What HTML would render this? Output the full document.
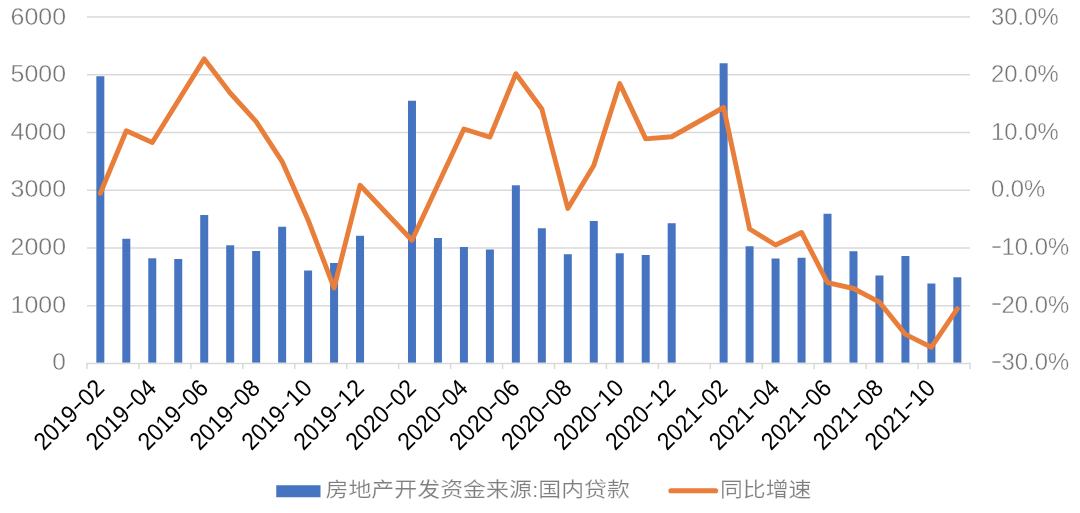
<!DOCTYPE html>
<html lang="zh"><head><meta charset="utf-8"><title>房地产开发资金来源:国内贷款</title>
<style>html,body{margin:0;padding:0;background:#fff}body{width:1080px;height:513px;overflow:hidden}svg{display:block}text{font-family:"Liberation Sans","Noto Sans CJK SC",sans-serif}.ax{fill:#777;font-size:24.5px;stroke:#fff;stroke-width:.36px}.xl{fill:#000;font-size:24.3px}.lg{fill:#7f7f7f;font-size:20.6px;stroke:#fff;stroke-width:.2px}</style></head><body>
<svg width="1080" height="513" viewBox="0 0 1080 513">
<rect width="1080" height="513" fill="#fff"/>
<g stroke="#d9d9d9" stroke-width="1.5" fill="none">
<line x1="87.0" y1="305.75" x2="970.0" y2="305.75"/>
<line x1="87.0" y1="248.00" x2="970.0" y2="248.00"/>
<line x1="87.0" y1="190.25" x2="970.0" y2="190.25"/>
<line x1="87.0" y1="132.50" x2="970.0" y2="132.50"/>
<line x1="87.0" y1="74.75" x2="970.0" y2="74.75"/>
<line x1="87.0" y1="17.00" x2="970.0" y2="17.00"/>
</g>
<g fill="#4674c1">
<rect x="96.34" y="76.25" width="8" height="286.50"/>
<rect x="122.31" y="238.76" width="8" height="123.99"/>
<rect x="148.28" y="258.28" width="8" height="104.47"/>
<rect x="174.25" y="259.03" width="8" height="103.72"/>
<rect x="200.22" y="215.02" width="8" height="147.73"/>
<rect x="226.19" y="245.29" width="8" height="117.46"/>
<rect x="252.16" y="251.00" width="8" height="111.75"/>
<rect x="278.13" y="226.75" width="8" height="136.00"/>
<rect x="304.10" y="270.52" width="8" height="92.23"/>
<rect x="330.07" y="263.01" width="8" height="99.74"/>
<rect x="356.04" y="235.76" width="8" height="126.99"/>
<rect x="407.98" y="100.74" width="8" height="262.01"/>
<rect x="433.95" y="238.01" width="8" height="124.74"/>
<rect x="459.92" y="247.02" width="8" height="115.73"/>
<rect x="485.89" y="249.50" width="8" height="113.25"/>
<rect x="511.86" y="185.28" width="8" height="177.47"/>
<rect x="537.84" y="228.25" width="8" height="134.50"/>
<rect x="563.81" y="254.24" width="8" height="108.51"/>
<rect x="589.78" y="220.97" width="8" height="141.78"/>
<rect x="615.75" y="253.26" width="8" height="109.49"/>
<rect x="641.72" y="254.99" width="8" height="107.76"/>
<rect x="667.69" y="223.23" width="8" height="139.52"/>
<rect x="719.63" y="63.26" width="8" height="299.49"/>
<rect x="745.60" y="246.27" width="8" height="116.48"/>
<rect x="771.57" y="258.51" width="8" height="104.24"/>
<rect x="797.54" y="257.76" width="8" height="104.99"/>
<rect x="823.51" y="213.75" width="8" height="149.00"/>
<rect x="849.48" y="251.23" width="8" height="111.52"/>
<rect x="875.45" y="275.49" width="8" height="87.26"/>
<rect x="901.42" y="256.03" width="8" height="106.72"/>
<rect x="927.39" y="283.52" width="8" height="79.23"/>
<rect x="953.36" y="277.28" width="8" height="85.47"/>
</g>
<g stroke="#d9d9d9" stroke-width="1.5" fill="none">
<line x1="86.2" y1="363.50" x2="970.8" y2="363.50"/>
<line x1="87.00" y1="363.50" x2="87.00" y2="369.00"/>
<line x1="138.94" y1="363.50" x2="138.94" y2="369.00"/>
<line x1="190.88" y1="363.50" x2="190.88" y2="369.00"/>
<line x1="242.82" y1="363.50" x2="242.82" y2="369.00"/>
<line x1="294.76" y1="363.50" x2="294.76" y2="369.00"/>
<line x1="346.71" y1="363.50" x2="346.71" y2="369.00"/>
<line x1="398.65" y1="363.50" x2="398.65" y2="369.00"/>
<line x1="450.59" y1="363.50" x2="450.59" y2="369.00"/>
<line x1="502.53" y1="363.50" x2="502.53" y2="369.00"/>
<line x1="554.47" y1="363.50" x2="554.47" y2="369.00"/>
<line x1="606.41" y1="363.50" x2="606.41" y2="369.00"/>
<line x1="658.35" y1="363.50" x2="658.35" y2="369.00"/>
<line x1="710.29" y1="363.50" x2="710.29" y2="369.00"/>
<line x1="762.24" y1="363.50" x2="762.24" y2="369.00"/>
<line x1="814.18" y1="363.50" x2="814.18" y2="369.00"/>
<line x1="866.12" y1="363.50" x2="866.12" y2="369.00"/>
<line x1="918.06" y1="363.50" x2="918.06" y2="369.00"/>
<line x1="970.00" y1="363.50" x2="970.00" y2="369.00"/>
</g>
<polyline points="100.34,193.30 126.31,130.70 152.28,142.50 204.22,58.90 230.19,93.00 256.16,121.70 282.13,161.60 308.10,220.00 334.07,287.90 360.04,185.30 411.98,240.20 463.92,129.00 489.89,137.10 515.86,73.70 541.84,109.00 567.81,208.50 593.78,165.50 619.75,83.60 645.72,138.90 671.69,136.75 723.63,107.50 749.60,229.00 775.57,245.00 801.54,232.50 827.51,282.60 853.48,288.50 879.45,302.20 905.42,334.40 931.39,347.20 957.36,308.70" fill="none" stroke="#e97e3a" stroke-width="4.9" stroke-linecap="round" stroke-linejoin="round"/>
<text class="ax" x="66" y="370.20" text-anchor="end">0</text>
<text class="ax" x="66" y="312.60" text-anchor="end" textLength="55.4" lengthAdjust="spacingAndGlyphs">1000</text>
<text class="ax" x="66" y="255.00" text-anchor="end" textLength="55.4" lengthAdjust="spacingAndGlyphs">2000</text>
<text class="ax" x="66" y="197.40" text-anchor="end" textLength="55.4" lengthAdjust="spacingAndGlyphs">3000</text>
<text class="ax" x="66" y="139.80" text-anchor="end" textLength="55.4" lengthAdjust="spacingAndGlyphs">4000</text>
<text class="ax" x="66" y="82.20" text-anchor="end" textLength="55.4" lengthAdjust="spacingAndGlyphs">5000</text>
<text class="ax" x="66" y="24.60" text-anchor="end" textLength="55.4" lengthAdjust="spacingAndGlyphs">6000</text>
<text class="ax" x="990.5" y="367.70" textLength="12" lengthAdjust="spacingAndGlyphs">-</text>
<text class="ax" x="1001.5" y="370.20" textLength="67.6" lengthAdjust="spacingAndGlyphs">30.0%</text>
<text class="ax" x="990.5" y="310.10" textLength="12" lengthAdjust="spacingAndGlyphs">-</text>
<text class="ax" x="1001.5" y="312.60" textLength="67.6" lengthAdjust="spacingAndGlyphs">20.0%</text>
<text class="ax" x="990.5" y="252.50" textLength="12" lengthAdjust="spacingAndGlyphs">-</text>
<text class="ax" x="1001.5" y="255.00" textLength="67.6" lengthAdjust="spacingAndGlyphs">10.0%</text>
<text class="ax" x="991" y="197.40" textLength="54.3" lengthAdjust="spacingAndGlyphs">0.0%</text>
<text class="ax" x="991" y="139.80" textLength="67.6" lengthAdjust="spacingAndGlyphs">10.0%</text>
<text class="ax" x="991" y="82.20" textLength="67.6" lengthAdjust="spacingAndGlyphs">20.0%</text>
<text class="ax" x="991" y="24.60" textLength="67.6" lengthAdjust="spacingAndGlyphs">30.0%</text>
<text class="xl" transform="translate(105.69 389.50) rotate(-45)" text-anchor="end"><tspan textLength="50.6" lengthAdjust="spacingAndGlyphs">2019</tspan><tspan dy="-2" textLength="11.6" lengthAdjust="spacingAndGlyphs">-</tspan><tspan dy="2" textLength="25.3" lengthAdjust="spacingAndGlyphs">02</tspan></text>
<text class="xl" transform="translate(157.63 389.50) rotate(-45)" text-anchor="end"><tspan textLength="50.6" lengthAdjust="spacingAndGlyphs">2019</tspan><tspan dy="-2" textLength="11.6" lengthAdjust="spacingAndGlyphs">-</tspan><tspan dy="2" textLength="25.3" lengthAdjust="spacingAndGlyphs">04</tspan></text>
<text class="xl" transform="translate(209.57 389.50) rotate(-45)" text-anchor="end"><tspan textLength="50.6" lengthAdjust="spacingAndGlyphs">2019</tspan><tspan dy="-2" textLength="11.6" lengthAdjust="spacingAndGlyphs">-</tspan><tspan dy="2" textLength="25.3" lengthAdjust="spacingAndGlyphs">06</tspan></text>
<text class="xl" transform="translate(261.51 389.50) rotate(-45)" text-anchor="end"><tspan textLength="50.6" lengthAdjust="spacingAndGlyphs">2019</tspan><tspan dy="-2" textLength="11.6" lengthAdjust="spacingAndGlyphs">-</tspan><tspan dy="2" textLength="25.3" lengthAdjust="spacingAndGlyphs">08</tspan></text>
<text class="xl" transform="translate(313.45 389.50) rotate(-45)" text-anchor="end"><tspan textLength="50.6" lengthAdjust="spacingAndGlyphs">2019</tspan><tspan dy="-2" textLength="11.6" lengthAdjust="spacingAndGlyphs">-</tspan><tspan dy="2" textLength="25.3" lengthAdjust="spacingAndGlyphs">10</tspan></text>
<text class="xl" transform="translate(365.39 389.50) rotate(-45)" text-anchor="end"><tspan textLength="50.6" lengthAdjust="spacingAndGlyphs">2019</tspan><tspan dy="-2" textLength="11.6" lengthAdjust="spacingAndGlyphs">-</tspan><tspan dy="2" textLength="25.3" lengthAdjust="spacingAndGlyphs">12</tspan></text>
<text class="xl" transform="translate(417.33 389.50) rotate(-45)" text-anchor="end"><tspan textLength="50.6" lengthAdjust="spacingAndGlyphs">2020</tspan><tspan dy="-2" textLength="11.6" lengthAdjust="spacingAndGlyphs">-</tspan><tspan dy="2" textLength="25.3" lengthAdjust="spacingAndGlyphs">02</tspan></text>
<text class="xl" transform="translate(469.27 389.50) rotate(-45)" text-anchor="end"><tspan textLength="50.6" lengthAdjust="spacingAndGlyphs">2020</tspan><tspan dy="-2" textLength="11.6" lengthAdjust="spacingAndGlyphs">-</tspan><tspan dy="2" textLength="25.3" lengthAdjust="spacingAndGlyphs">04</tspan></text>
<text class="xl" transform="translate(521.21 389.50) rotate(-45)" text-anchor="end"><tspan textLength="50.6" lengthAdjust="spacingAndGlyphs">2020</tspan><tspan dy="-2" textLength="11.6" lengthAdjust="spacingAndGlyphs">-</tspan><tspan dy="2" textLength="25.3" lengthAdjust="spacingAndGlyphs">06</tspan></text>
<text class="xl" transform="translate(573.16 389.50) rotate(-45)" text-anchor="end"><tspan textLength="50.6" lengthAdjust="spacingAndGlyphs">2020</tspan><tspan dy="-2" textLength="11.6" lengthAdjust="spacingAndGlyphs">-</tspan><tspan dy="2" textLength="25.3" lengthAdjust="spacingAndGlyphs">08</tspan></text>
<text class="xl" transform="translate(625.10 389.50) rotate(-45)" text-anchor="end"><tspan textLength="50.6" lengthAdjust="spacingAndGlyphs">2020</tspan><tspan dy="-2" textLength="11.6" lengthAdjust="spacingAndGlyphs">-</tspan><tspan dy="2" textLength="25.3" lengthAdjust="spacingAndGlyphs">10</tspan></text>
<text class="xl" transform="translate(677.04 389.50) rotate(-45)" text-anchor="end"><tspan textLength="50.6" lengthAdjust="spacingAndGlyphs">2020</tspan><tspan dy="-2" textLength="11.6" lengthAdjust="spacingAndGlyphs">-</tspan><tspan dy="2" textLength="25.3" lengthAdjust="spacingAndGlyphs">12</tspan></text>
<text class="xl" transform="translate(728.98 389.50) rotate(-45)" text-anchor="end"><tspan textLength="50.6" lengthAdjust="spacingAndGlyphs">2021</tspan><tspan dy="-2" textLength="11.6" lengthAdjust="spacingAndGlyphs">-</tspan><tspan dy="2" textLength="25.3" lengthAdjust="spacingAndGlyphs">02</tspan></text>
<text class="xl" transform="translate(780.92 389.50) rotate(-45)" text-anchor="end"><tspan textLength="50.6" lengthAdjust="spacingAndGlyphs">2021</tspan><tspan dy="-2" textLength="11.6" lengthAdjust="spacingAndGlyphs">-</tspan><tspan dy="2" textLength="25.3" lengthAdjust="spacingAndGlyphs">04</tspan></text>
<text class="xl" transform="translate(832.86 389.50) rotate(-45)" text-anchor="end"><tspan textLength="50.6" lengthAdjust="spacingAndGlyphs">2021</tspan><tspan dy="-2" textLength="11.6" lengthAdjust="spacingAndGlyphs">-</tspan><tspan dy="2" textLength="25.3" lengthAdjust="spacingAndGlyphs">06</tspan></text>
<text class="xl" transform="translate(884.80 389.50) rotate(-45)" text-anchor="end"><tspan textLength="50.6" lengthAdjust="spacingAndGlyphs">2021</tspan><tspan dy="-2" textLength="11.6" lengthAdjust="spacingAndGlyphs">-</tspan><tspan dy="2" textLength="25.3" lengthAdjust="spacingAndGlyphs">08</tspan></text>
<text class="xl" transform="translate(936.74 389.50) rotate(-45)" text-anchor="end"><tspan textLength="50.6" lengthAdjust="spacingAndGlyphs">2021</tspan><tspan dy="-2" textLength="11.6" lengthAdjust="spacingAndGlyphs">-</tspan><tspan dy="2" textLength="25.3" lengthAdjust="spacingAndGlyphs">10</tspan></text>
<rect x="276.25" y="485.25" width="44.25" height="12" fill="#4674c1"/>
<text class="lg" x="325.5" y="497.1" textLength="304.5" lengthAdjust="spacingAndGlyphs">房地产开发资金来源:国内贷款</text>
<line x1="670.9" y1="490.75" x2="715.6" y2="490.75" stroke="#e97e3a" stroke-width="5.1" stroke-linecap="round"/>
<text class="lg" x="720" y="497.1" textLength="91.5" lengthAdjust="spacingAndGlyphs">同比增速</text>
</svg></body></html>
